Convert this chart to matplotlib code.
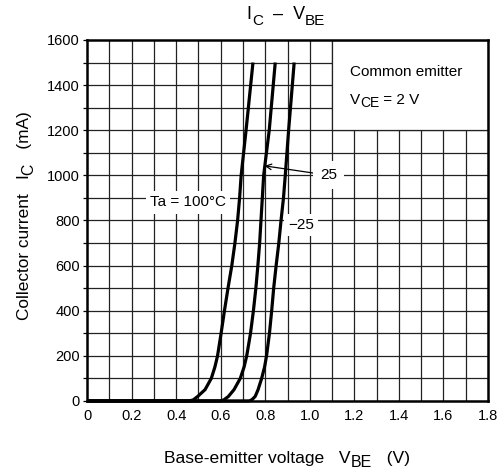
import matplotlib
matplotlib.use("Agg")
import matplotlib.pyplot as plt
from matplotlib.patches import Rectangle
from matplotlib.transforms import IdentityTransform

plt.rcParams["font.family"] = ["Liberation Sans", "DejaVu Sans"]

# collector current (mA) and V_BE (V)
ic = [0, 5, 20, 50, 100, 150, 200, 300, 400, 500, 600, 700, 800, 900, 1000, 1200, 1500]
vbe_100 = [0.460, 0.478, 0.497, 0.530, 0.558, 0.574, 0.586, 0.602, 0.617, 0.633, 0.650, 0.664, 0.676, 0.685, 0.692, 0.714, 0.745]
vbe_25 = [0.600, 0.615, 0.635, 0.660, 0.688, 0.705, 0.717, 0.734, 0.747, 0.758, 0.767, 0.775, 0.781, 0.787, 0.793, 0.818, 0.845]
vbe_m25 = [0.728, 0.740, 0.755, 0.768, 0.784, 0.797, 0.806, 0.819, 0.829, 0.838, 0.849, 0.861, 0.871, 0.882, 0.890, 0.905, 0.930]

x_ticks = [0, 0.2, 0.4, 0.6, 0.8, 1.0, 1.2, 1.4, 1.6, 1.8]
x_labels = ["0", "0.2", "0.4", "0.6", "0.8", "1.0", "1.2", "1.4", "1.6", "1.8"]
y_ticks = [0, 200, 400, 600, 800, 1000, 1200, 1400, 1600]

W, H, DPI = 5.0, 4.7, 100
fig = plt.figure(figsize=(W, H), dpi=DPI)
ax = fig.add_axes([0.174, 0.147, 0.802, 0.768])
ax.set_xlim(0, 1.8)
ax.set_ylim(0, 1600)


def rich(px, py, parts, rot=0, ha="center"):
    """Text with near full-size subscripts; px/py are pixels from top-left,
    parts = [(text, size, drop_in_points)], py is the baseline."""
    r = fig.canvas.get_renderer()
    ts, ws = [], []
    for s, size, drop in parts:
        t = fig.text(0, 0, s, fontsize=size, rotation=rot, rotation_mode="anchor",
                     ha="left", va="baseline", transform=IdentityTransform())
        bb = t.get_window_extent(r)
        ts.append((t, drop))
        ws.append(bb.height if rot else bb.width)
    total = sum(ws)
    y0 = H * DPI - py
    cum = -total / 2 if ha == "center" else 0
    for (t, drop), w in zip(ts, ws):
        d = drop * DPI / 72
        if rot:
            t.set_position((px + d, y0 + cum))
        else:
            t.set_position((px + cum, y0 - d))
        cum += w


# grid every 0.1 V / 100 mA
for i in range(1, 18):
    ax.axvline(i * 0.1, color="#222222", lw=0.9, zorder=1)
for j in range(1, 16):
    ax.axhline(j * 100, color="#222222", lw=0.9, zorder=1)

# note box in upper right
ax.add_patch(Rectangle((1.1, 1200), 0.7, 400, facecolor="white",
                       edgecolor="#222222", lw=0.9, zorder=2))
rich(350, 76, [("Common emitter", 11, 0)], ha="left")
rich(350, 104, [("V", 11, 0), ("CE", 10, 2.3), (" = 2 V", 11, 0)], ha="left")

for v in (vbe_100, vbe_25, vbe_m25):
    ax.plot([0] + v, [0] + ic, color="black", lw=2.3, zorder=4,
            solid_capstyle="butt", solid_joinstyle="round", clip_on=False)

ax.text(0.452, 880, "Ta = 100°C", fontsize=11, ha="center", va="center",
        bbox=dict(facecolor="white", edgecolor="none", pad=3), zorder=3)
ax.text(0.962, 780, "\u221225", fontsize=11, ha="center", va="center",
        bbox=dict(facecolor="white", edgecolor="none", pad=3), zorder=3)
ax.annotate("25", xy=(0.797, 1042), xytext=(1.085, 1000), fontsize=11,
            ha="center", va="center", bbox=dict(facecolor="white", edgecolor="none", pad=5),
            arrowprops=dict(arrowstyle="->", color="black", lw=0.9,
                            shrinkA=0, shrinkB=0, mutation_scale=10),
            zorder=5)

ax.set_xticks(x_ticks)
ax.set_xticklabels(x_labels)
ax.set_yticks(y_ticks)
ax.set_yticks(range(0, 1601, 100), minor=True)
ax.tick_params(axis="x", which="both", length=0, pad=6, labelsize=10.5)
ax.tick_params(axis="y", which="both", direction="out", length=3, width=0.9, pad=2, labelsize=10.5)

for s in ax.spines.values():
    s.set_linewidth(1.8)
    s.set_zorder(6)

rich(286, 19, [("I", 13, 0), ("C", 11, 4), ("  \u2013  V", 13, 0), ("BE", 11, 4)])
rich(287, 463, [("Base-emitter voltage   V", 12.6, 0), ("BE", 11.5, 3), ("   (V)", 12.6, 0)])
rich(29, 216, [("Collector current   I", 12.4, 0), ("C", 11.3, 3), ("   (mA)", 12.4, 0)], rot=90)

fig.savefig("out.png", dpi=DPI)
